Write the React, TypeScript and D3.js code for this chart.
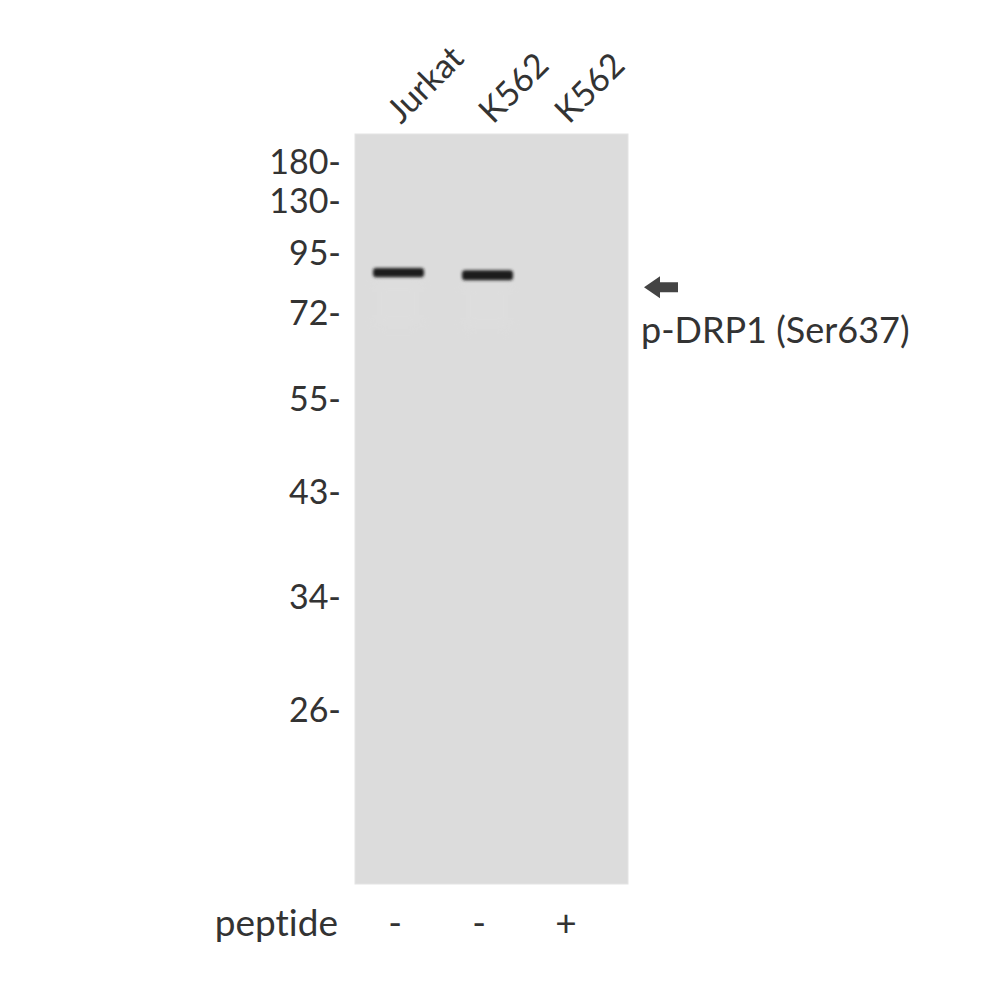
import React from "react"
import * as d3 from "d3"

// lanes and conditions
const lanes = ["Jurkat", "K562", "K562 "]
const laneLabels = ["Jurkat", "K562", "K562"]
const peptide = ["-", "-", "+"]

// molecular weight markers (kDa)
const markers = [180, 130, 95, 72, 55, 43, 34, 26]

// detected bands: lane index, apparent MW (kDa), relative thickness
const bands = [
  { lane: 0, mw: 87.5, strength: 0.8 },
  { lane: 1, mw: 86.5, strength: 1 },
]

const target = "p-DRP1 (Ser637)"

const W = 1000
const H = 1000
const blot = { left: 355, right: 628, top: 134, bottom: 884 }
const FONT = "Lato, 'Noto Sans', sans-serif"
const TXT = "#333"

export default function App() {
  // gel migration calibration (not log-linear), marker MW -> y
  const y = d3.scaleLinear()
    .domain(markers)
    .range([162, 201, 253, 313, 399, 492, 597, 710])

  const x = d3.scalePoint().domain(lanes).range([398, 566])

  const arrowY = y(bands[1].mw) + 12

  return (
    <svg width={W} height={H} viewBox={`0 0 ${W} ${H}`}
      style={{ position: "absolute", left: 0, top: 0, background: "#fff", fontVariantLigatures: "none" }}>
      <defs>
        <filter id="blur" x="-20%" y="-100%" width="140%" height="300%">
          <feGaussianBlur stdDeviation="1.6" />
        </filter>
        <filter id="smear" x="-20%" y="-20%" width="140%" height="140%">
          <feGaussianBlur stdDeviation="6" />
        </filter>
      </defs>
      <rect x={blot.left} y={blot.top} width={blot.right - blot.left}
        height={blot.bottom - blot.top} fill="#dcdcdc" stroke="#e4e4e4" strokeWidth={1} />

      {bands.map((b, i) => {
        const cx = b.lane === 1 ? x(lanes[b.lane]) + 5 : x(lanes[b.lane])
        const th = 6 + 4 * b.strength
        return (
          <g key={i}>
            <rect x={cx - 24} y={y(b.mw) + 6} width={48} height={50}
              fill="#e0e0e0" opacity={0.35} filter="url(#smear)" />
            <rect x={cx - 25} y={y(b.mw) - th / 2} width={51} height={th} rx={3}
              fill="#1e1e1e" filter="url(#blur)" />
          </g>
        )
      })}

      <g fontFamily={FONT} fontSize={34} fill={TXT} textAnchor="end">
        {markers.map(m => (
          <text key={m} x={341} y={y(m) + 12}>{m}-</text>
        ))}
      </g>

      <g fontFamily={FONT} fontSize={34} fill={TXT}>
        {lanes.map((l, i) => (
          <text key={l} transform={`translate(${x(l) + (i === 1 ? 11 : 3)},${125}) rotate(-45)`}>{laneLabels[i]}</text>
        ))}
      </g>

      <g fontFamily={FONT} fontSize={37} fill={TXT} textAnchor="middle">
        <text x={338} y={936} textAnchor="end">peptide</text>
        {lanes.map((l, i) => (
          <text key={l} x={x(l) - (i === 2 ? 0 : 3)} y={936}>{peptide[i]}</text>
        ))}
      </g>

      <path d={`M644,${arrowY} L660,${arrowY - 11} L660,${arrowY - 5} L678,${arrowY - 5} L678,${arrowY + 5} L660,${arrowY + 5} L660,${arrowY + 11} Z`}
        fill="#444" />
      <text x={641} y={343} fontFamily={FONT} fontSize={36} fill={TXT}>{target}</text>
    </svg>
  )
}
